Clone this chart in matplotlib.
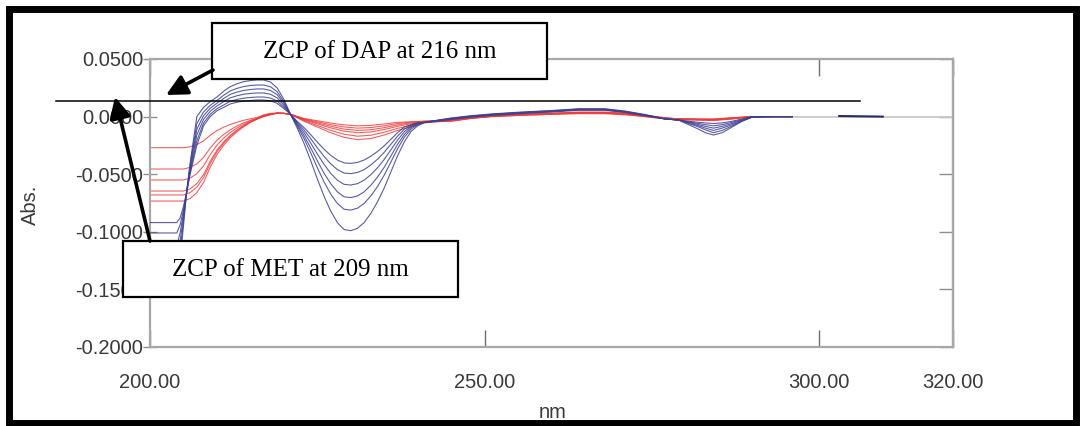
import numpy as np
import matplotlib
matplotlib.use("Agg")
import matplotlib.pyplot as plt
from matplotlib.patches import Rectangle, FancyArrowPatch
from matplotlib.lines import Line2D

# wavelengths (nm) for the DAP (blue) spectra
dap_wl = [200, 204, 204.5, 205, 205.5, 206, 207, 208, 209, 210, 211, 212, 213, 214, 215, 216, 217, 218, 219, 220, 221,
          222, 223, 224, 225, 226, 227, 228, 229, 230, 231, 232, 233, 234, 235, 236, 237, 238, 239, 240, 241,
          243, 245, 248, 251, 255, 260, 264, 268, 271, 274, 277, 279,
          280.5, 282, 283, 284.2, 285.5, 287, 288.5, 290, 293, 296]

# one row per DAP spectrum (smallest -> largest)
dap_abs = [
    [-0.092, -0.092, -0.088, -0.078, -0.065, -0.050, -0.025, -0.008, 0.000, 0.005, 0.008, 0.011, 0.0125, 0.0135, 0.014, 0.0144, 0.0144, 0.0137, 0.0115, 0.007, 0.002,
     -0.0041, -0.0094, -0.0156, -0.0221, -0.0283, -0.0336, -0.0377, -0.0402, -0.0406, -0.0398, -0.0377, -0.0344, -0.0303, -0.0254, -0.0197, -0.0139, -0.009, -0.007, -0.0055, -0.005,
     -0.004, -0.0025, -0.0005, 0.001, 0.0025, 0.004, 0.0055, 0.0055, 0.0035, 0.0008, -0.002, -0.003,
     -0.004, -0.005, -0.0055, -0.006, -0.0055, -0.004, -0.002, 0.0, 0.0, 0.0],
    [-0.101, -0.101, -0.094, -0.081, -0.065, -0.0485, -0.021, -0.0056, 0.002, 0.0068, 0.0101, 0.0133, 0.0149, 0.016, 0.0166, 0.017, 0.017, 0.0161, 0.0135, 0.0082, 0.002,
     -0.005, -0.0115, -0.019, -0.027, -0.0345, -0.041, -0.046, -0.049, -0.0495, -0.0485, -0.046, -0.042, -0.037, -0.031, -0.024, -0.017, -0.011, -0.0075, -0.0055, -0.005,
     -0.0038, -0.0022, -0.0002, 0.0013, 0.0028, 0.0043, 0.0058, 0.0058, 0.0038, 0.001, -0.002, -0.003,
     -0.0045, -0.006, -0.007, -0.008, -0.007, -0.005, -0.0025, 0.0, 0.0, 0.0],
    [-0.112, -0.112, -0.101, -0.084, -0.065, -0.0465, -0.016, -0.0024, 0.0046, 0.0092, 0.0129, 0.0163, 0.0181, 0.0194, 0.0201, 0.0205, 0.0205, 0.0194, 0.0162, 0.0098, 0.002,
     -0.006, -0.0138, -0.0228, -0.0324, -0.0414, -0.0492, -0.0552, -0.0588, -0.0594, -0.0582, -0.0552, -0.0504, -0.0444, -0.0372, -0.0288, -0.0204, -0.0132, -0.0085, -0.006, -0.005,
     -0.0036, -0.002, 0.0, 0.0015, 0.003, 0.0045, 0.006, 0.006, 0.004, 0.001, -0.002, -0.003,
     -0.005, -0.007, -0.0085, -0.010, -0.0085, -0.006, -0.003, -0.0002, 0.0, 0.0],
    [-0.124, -0.124, -0.108, -0.087, -0.065, -0.0445, -0.011, 0.0008, 0.0072, 0.0116, 0.0157, 0.0193, 0.0213, 0.0227, 0.0235, 0.024, 0.024, 0.0227, 0.019, 0.0114, 0.002,
     -0.0071, -0.0163, -0.027, -0.0383, -0.049, -0.0582, -0.0653, -0.0696, -0.0703, -0.0689, -0.0653, -0.0596, -0.0525, -0.044, -0.0341, -0.0241, -0.0156, -0.0095, -0.0065, -0.005,
     -0.0034, -0.0018, 0.0003, 0.0018, 0.0033, 0.0048, 0.0063, 0.0063, 0.0043, 0.0013, -0.002, -0.003,
     -0.0055, -0.008, -0.010, -0.012, -0.010, -0.007, -0.0035, -0.0003, 0.0, 0.0],
    [-0.135, -0.135, -0.116, -0.091, -0.064, -0.0425, -0.006, 0.004, 0.0098, 0.014, 0.0185, 0.0223, 0.0245, 0.0261, 0.027, 0.0274, 0.0274, 0.0259, 0.0216, 0.013, 0.002,
     -0.0082, -0.0189, -0.0312, -0.0443, -0.0566, -0.0672, -0.0754, -0.0804, -0.0812, -0.0795, -0.0754, -0.0689, -0.0607, -0.0508, -0.0394, -0.0279, -0.018, -0.011, -0.007, -0.005,
     -0.0032, -0.0015, 0.0005, 0.002, 0.0035, 0.005, 0.0065, 0.0065, 0.0045, 0.0015, -0.002, -0.003,
     -0.006, -0.009, -0.0115, -0.014, -0.012, -0.008, -0.0038, -0.0004, 0.0, 0.0],
    [-0.150, -0.150, -0.125, -0.095, -0.064, -0.040, 0.000, 0.008, 0.013, 0.017, 0.022, 0.026, 0.0285, 0.0303, 0.0313, 0.0318, 0.0318, 0.030, 0.025, 0.015, 0.002,
     -0.010, -0.023, -0.038, -0.054, -0.069, -0.082, -0.092, -0.098, -0.099, -0.097, -0.092, -0.084, -0.074, -0.062, -0.048, -0.034, -0.022, -0.013, -0.008, -0.005,
     -0.003, -0.0012, 0.0008, 0.0023, 0.0038, 0.0053, 0.0068, 0.0068, 0.0048, 0.0018, -0.002, -0.003,
     -0.007, -0.011, -0.014, -0.016, -0.014, -0.009, -0.004, -0.0005, 0.0, 0.0],
]

# wavelengths (nm) for the MET (red) spectra
met_wl = [200, 205, 206, 207, 208, 209, 210, 211, 212, 213, 214, 215, 216, 217, 218, 219, 220, 221,
          223, 225, 227, 229, 231, 233, 235, 237, 239, 241,
          243, 245, 248, 251, 255, 260, 264, 268, 271, 274, 277, 279, 282, 284.2, 287, 290, 293, 296]

met_abs = [
    [-0.027, -0.027, -0.0262, -0.0243, -0.0211, -0.0162, -0.0122, -0.0092, -0.0068, -0.0049, -0.0032, -0.0019, -0.0008, 0.0015, 0.0028, 0.003, 0.0028, 0.002,
     -0.0016, -0.0036, -0.0056, -0.0072, -0.008, -0.0076, -0.0064, -0.005, -0.0045, -0.004,
     -0.0035, -0.003, -0.001, 0.0005, 0.002, 0.003, 0.004, 0.004, 0.003, 0.001, -0.001, -0.002, -0.002, -0.002, -0.001, 0.0, 0.0, 0.0],
    [-0.0455, -0.0455, -0.0441, -0.041, -0.0355, -0.0273, -0.0205, -0.0155, -0.0114, -0.0082, -0.0055, -0.0032, -0.0014, 0.001, 0.0025, 0.003, 0.0028, 0.002,
     -0.002, -0.0045, -0.007, -0.009, -0.010, -0.0095, -0.008, -0.006, -0.0048, -0.004,
     -0.0036, -0.003, -0.001, 0.0005, 0.0018, 0.0028, 0.0035, 0.0035, 0.0025, 0.001, -0.001, -0.002, -0.0022, -0.0025, -0.001, 0.0, 0.0, 0.0],
    [-0.055, -0.055, -0.0534, -0.0495, -0.0429, -0.033, -0.0248, -0.0187, -0.0138, -0.0099, -0.0066, -0.0039, -0.0017, 0.0008, 0.0022, 0.003, 0.0028, 0.002,
     -0.0024, -0.0054, -0.0084, -0.0108, -0.012, -0.0114, -0.0096, -0.0072, -0.0054, -0.0045,
     -0.0038, -0.0035, -0.0012, 0.0003, 0.0015, 0.0025, 0.0035, 0.0035, 0.0025, 0.0005, -0.0015, -0.002, -0.0025, -0.0025, -0.0015, 0.0, 0.0, 0.0],
    [-0.0646, -0.0646, -0.0627, -0.0581, -0.0504, -0.0388, -0.0291, -0.022, -0.0162, -0.0116, -0.0078, -0.0045, -0.0019, 0.0005, 0.002, 0.003, 0.0028, 0.002,
     -0.0028, -0.0063, -0.0098, -0.0126, -0.014, -0.0133, -0.0112, -0.0084, -0.0063, -0.0047,
     -0.004, -0.0035, -0.0013, 0.0002, 0.0015, 0.0025, 0.003, 0.003, 0.002, 0.0005, -0.0015, -0.002, -0.0025, -0.003, -0.0015, 0.0, 0.0, 0.0],
    [-0.068, -0.068, -0.066, -0.0612, -0.053, -0.0408, -0.0306, -0.0231, -0.017, -0.0122, -0.0082, -0.0048, -0.002, 0.0003, 0.0018, 0.003, 0.0028, 0.002,
     -0.0034, -0.0077, -0.0119, -0.0153, -0.017, -0.0162, -0.0136, -0.0102, -0.0077, -0.005,
     -0.0042, -0.004, -0.0015, 0.0, 0.001, 0.002, 0.003, 0.003, 0.002, 0.0, -0.002, -0.0025, -0.003, -0.003, -0.002, 0.0, 0.0, 0.0],
    [-0.0733, -0.0733, -0.0711, -0.066, -0.0572, -0.044, -0.033, -0.0249, -0.0183, -0.0132, -0.0088, -0.0051, -0.0022, 0.0, 0.0015, 0.003, 0.0028, 0.002,
     -0.004, -0.009, -0.014, -0.018, -0.020, -0.019, -0.016, -0.012, -0.009, -0.0055,
     -0.0045, -0.004, -0.0016, 0.0, 0.001, 0.002, 0.0025, 0.0025, 0.0015, 0.0, -0.002, -0.0025, -0.003, -0.0035, -0.002, 0.0, 0.0, 0.0],
]

# short trailing piece and grey baseline on the right
tail_wl = [303, 309.5]
tail_abs = [0.0005, 0.0]
base_wl = [290, 320]
base_abs = [0.0, 0.0]

x_ticks = [200, 250, 300, 320]
x_labels = ["200.00", "250.00", "300.00", "320.00"]
y_ticks = [0.05, 0.0, -0.05, -0.10, -0.15, -0.20]
y_labels = ["0.0500", "0.0000", "-0.0500", "-0.1000", "-0.1500", "-0.2000"]

W, H = 1081, 426

def px(x, y):
    return (x / W, (H - y) / H)

fig = plt.figure(figsize=(W / 100, H / 100), dpi=100)
ax = fig.add_axes([150 / W, 79 / H, 803 / W, 288 / H])

ax.plot(base_wl, base_abs, color='#c8c8c8', lw=1.3, zorder=1)
for row in met_abs:
    ax.plot(met_wl, row, color='#ee3a3a', lw=0.8, alpha=0.8, zorder=2)
for row in dap_abs:
    ax.plot(dap_wl, row, color='#3d4190', lw=0.8, alpha=0.85, zorder=3)
ax.plot(tail_wl, tail_abs, color='#2a2a6a', lw=1.5, zorder=3)

ax.set_xlim(200, 320)
ax.set_ylim(-0.2, 0.05)

tick_font = dict(family='Liberation Sans', size=14.5, color='#3a3a3a')
ax.set_xticks(x_ticks)
ax.set_xticklabels(x_labels, **tick_font)
ax.set_yticks(y_ticks)
ax.set_yticklabels(y_labels, **tick_font)
ax.tick_params(axis='x', direction='in', length=12, width=1, color='#707070',
               top=True, pad=19)
ax.tick_params(axis='y', direction='inout', length=10, width=1, color='#909090',
               right=False, pad=0)
for s in ax.spines.values():
    s.set_color('#a8a8a8')
    s.set_linewidth(1.6)

# inward ticks on the right spine
sec = ax.secondary_yaxis('right')
sec.set_yticks(y_ticks)
sec.tick_params(direction='in', length=10, width=1, color='#909090', labelright=False)
sec.spines['right'].set_color('#a8a8a8')
sec.spines['right'].set_linewidth(1.6)

fig.text(*px(30, 205), "Abs.", rotation=90, ha='center', va='center',
         family='Liberation Sans', size=14.5, color='#3a3a3a')
fig.text(*px(553, 412), "nm", ha='center', va='center',
         family='Liberation Sans', size=14.5, color='#3a3a3a')

# reference line across the plot
fig.add_artist(Line2D([56 / W, 860 / W], [(H - 101) / H] * 2, color='k', lw=1.1))

# annotation boxes
serif = dict(family='Liberation Serif', size=18, color='k')
for (x0, y0, x1, y1, txt) in [(212, 23, 547, 79, "ZCP of DAP at 216 nm"),
                              (123, 241, 458, 297, "ZCP of MET at 209 nm")]:
    fig.add_artist(Rectangle(px(x0, y1), (x1 - x0) / W, (y1 - y0) / H,
                             transform=fig.transFigure, facecolor='white',
                             edgecolor='k', lw=1.6, zorder=4))
    fig.text(*px((x0 + x1) / 2, (y0 + y1) / 2 + 1), txt, ha='center', va='center',
             zorder=5, **serif)

# arrows
for (a, b) in [((213, 70), (166, 95)), ((150, 241), (115, 97))]:
    fig.add_artist(FancyArrowPatch(px(*a), px(*b), transform=fig.transFigure,
                                   arrowstyle='-|>,head_length=0.7,head_width=0.35',
                                   mutation_scale=18, lw=2.6, color='k',
                                   shrinkA=0, shrinkB=0, zorder=6))

# thick outer frame
fig.add_artist(Rectangle((9 / W, 3 / H), 1067 / W, 414 / H, transform=fig.transFigure,
                         fill=False, edgecolor='k', lw=5.0, zorder=7))

fig.savefig("out.png", dpi=100)
